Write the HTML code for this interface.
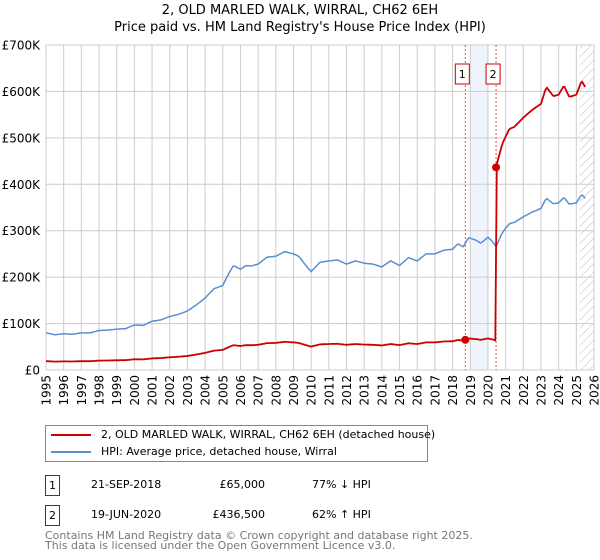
<!DOCTYPE html>
<html><head><meta charset="utf-8"><style>
body{margin:0;width:600px;height:560px;background:#fff;font-family:"DejaVu Sans","Liberation Sans",sans-serif;overflow:hidden;position:relative}
.t{position:absolute;font-size:12px;color:#000;white-space:nowrap}
</style></head><body>
<div class="t" style="left:0;width:600px;text-align:center;top:3px;font-size:13px">2, OLD MARLED WALK, WIRRAL, CH62 6EH</div>
<div class="t" style="left:0;width:600px;text-align:center;top:20px;font-size:13px">Price paid vs. HM Land Registry's House Price Index (HPI)</div>
<svg id="chart" width="600" height="415" style="position:absolute;left:0;top:0" font-family="DejaVu Sans, Liberation Sans, sans-serif"></svg>
<div style="position:absolute;left:45px;top:425px;width:383px;height:37px;border:1px solid #888;box-sizing:border-box">
 <div style="position:absolute;left:5px;top:2px;font-size:11px;white-space:nowrap"><span style="display:inline-block;width:40px;height:2px;background:#cc0000;vertical-align:middle;margin-right:10px"></span>2, OLD MARLED WALK, WIRRAL, CH62 6EH (detached house)</div>
 <div style="position:absolute;left:5px;top:19px;font-size:11px;white-space:nowrap"><span style="display:inline-block;width:40px;height:2px;background:#5b8ed0;vertical-align:middle;margin-right:10px"></span>HPI: Average price, detached house, Wirral</div>
</div>
<div style="position:absolute;left:45px;top:475px;width:15px;height:21px;border:1px solid #cc0000;box-sizing:border-box;font-size:11px;text-align:center;line-height:19px">1</div>
<div class="t" style="left:91px;top:478px;font-size:11px">21-SEP-2018</div>
<div class="t" style="left:180px;width:85px;text-align:right;top:478px;font-size:11px">£65,000</div>
<div class="t" style="left:312px;top:478px;font-size:11px">77% ↓ HPI</div>
<div style="position:absolute;left:45px;top:505px;width:15px;height:21px;border:1px solid #cc0000;box-sizing:border-box;font-size:11px;text-align:center;line-height:19px">2</div>
<div class="t" style="left:91px;top:508px;font-size:11px">19-JUN-2020</div>
<div class="t" style="left:180px;width:85px;text-align:right;top:508px;font-size:11px">£436,500</div>
<div class="t" style="left:312px;top:508px;font-size:11px">62% ↑ HPI</div>
<div class="t" style="left:45px;top:531px;font-size:11px;color:#777;line-height:10px">Contains HM Land Registry data © Crown copyright and database right 2025.<br>This data is licensed under the Open Government Licence v3.0.</div>
<script>
const hpiYears=[1995,1995.5,1996,1996.5,1997,1997.5,1998,1998.5,1999,1999.5,2000,2000.5,2001,2001.5,2002,2002.5,2003,2003.5,2004,2004.5,2005,2005.3,2005.6,2006,2006.3,2006.6,2007,2007.5,2008,2008.5,2009,2009.3,2009.7,2010,2010.5,2011,2011.5,2012,2012.5,2013,2013.5,2014,2014.5,2015,2015.5,2016,2016.5,2017,2017.5,2018,2018.3,2018.6,2018.9,2019.3,2019.6,2020,2020.3,2020.46,2020.8,2021.2,2021.5,2022,2022.5,2023,2023.3,2023.7,2024,2024.3,2024.6,2025,2025.3,2025.5];
const hpiValues=[80,76,78,77,80,80,85,86,88,89,97,96,105,108,115,120,127,140,155,175,182,205,225,217,225,224,228,243,245,255,250,245,225,212,232,235,237,228,235,230,228,222,235,225,242,235,250,250,258,260,272,265,285,280,273,286,275,265,295,315,318,330,340,348,370,358,360,372,357,360,378,370];
const saleYears=[2018.72,2020.46];
const salePrices=[65,436.5];
const yTicks=[0,100,200,300,400,500,600,700];
const yTickLabels=["£0","£100K","£200K","£300K","£400K","£500K","£600K","£700K"];
const xYears=[1995,1996,1997,1998,1999,2000,2001,2002,2003,2004,2005,2006,2007,2008,2009,2010,2011,2012,2013,2014,2015,2016,2017,2018,2019,2020,2021,2022,2023,2024,2025,2026];
const NS="http://www.w3.org/2000/svg";
const svg=document.getElementById('chart');
const X0=46,X1=594,Y0=370,Y1=45;
const x=y=>X0+(y-1995)*(X1-X0)/31;
const yv=v=>Y0-v*(Y0-Y1)/700;
function mk(t,a){const e=document.createElementNS(NS,t);for(const k in a)e.setAttribute(k,a[k]);svg.appendChild(e);return e;}
function hpiAt(t){for(let i=0;i<hpiYears.length-1;i++){if(t<=hpiYears[i+1]){const f=(t-hpiYears[i])/(hpiYears[i+1]-hpiYears[i]);return hpiValues[i]+f*(hpiValues[i+1]-hpiValues[i]);}}return hpiValues[hpiValues.length-1];}
let s=mk('rect',{x:x(2019),y:Y1,width:x(2020)-x(2019),height:Y0-Y1,fill:'#eef3fc'});


const defs=mk('defs',{});
defs.innerHTML='<pattern id="h" width="6" height="6" patternUnits="userSpaceOnUse" patternTransform="rotate(45)"><line x1="0" y1="0" x2="0" y2="6" stroke="#bbb" stroke-width="1"/></pattern>';
let hz=mk('rect',{x:x(2025.2),y:Y1,width:X1-x(2025.2),height:Y0-Y1,fill:'url(#h)'});


xYears.forEach(yr=>{const l=mk('line',{x1:x(yr),x2:x(yr),y1:Y1,y2:Y0,stroke:'#ccc','stroke-width':1});


const t=mk('text',{x:0,y:0,'font-size':12,'text-anchor':'end',transform:`translate(${x(yr)+4.5},${Y0+5}) rotate(-90)`});t.textContent=yr;

});
yTicks.forEach((v,i)=>{const l=mk('line',{x1:X0,x2:X1,y1:yv(v),y2:yv(v),stroke:'#ccc','stroke-width':1});


const t=mk('text',{x:40,y:yv(v)+4.5,'font-size':12,'text-anchor':'end'});t.textContent=yTickLabels[i];

});
saleYears.forEach((sy,i)=>{const l=mk('line',{x1:x(sy),x2:x(sy),y1:Y1,y2:Y0,stroke:'#e05050','stroke-width':1,'stroke-dasharray':'2,2'});


const bx=i?x(sy)-10:x(sy)-10;
const r=mk('rect',{x:bx-(i?0:0),y:64,width:14,height:20,fill:'#fff',stroke:'#cc0000'});


const t=mk('text',{x:bx+7,y:78,'font-size':11,'text-anchor':'middle'});t.textContent=String(i+1);

});
let p='';const steps=[];for(let t=1995;t<=2025.55;t+=1/12)steps.push(t);
steps.forEach((t,i)=>{p+=(i?'L':'M')+x(t).toFixed(1)+','+yv(hpiAt(t)).toFixed(1);});
const hl=mk('path',{d:p,fill:'none',stroke:'#5b8ed0','stroke-width':1.5});


const f1=salePrices[0]/hpiAt(saleYears[0]),f2=salePrices[1]/hpiAt(saleYears[1]);
let q='';steps.forEach((t,i)=>{const f=t<saleYears[1]?f1:f2;q+=(i?'L':'M')+x(t).toFixed(1)+','+yv(hpiAt(t)*f).toFixed(1);});
const pl=mk('path',{d:q,fill:'none',stroke:'#cc0000','stroke-width':1.8});


saleYears.forEach((sy,i)=>{const c=mk('circle',{cx:x(sy),cy:yv(salePrices[i]),r:4,fill:'#cc0000'});

});
</script>
</body></html>
